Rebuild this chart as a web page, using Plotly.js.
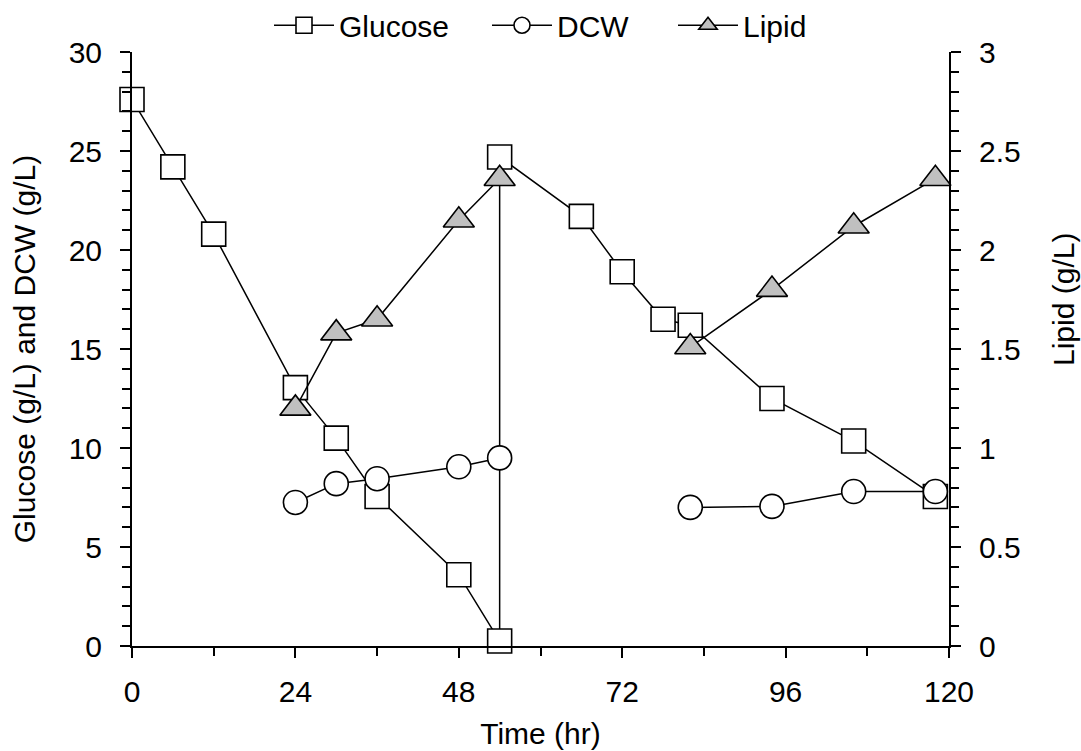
<!DOCTYPE html>
<html>
<head>
<meta charset="utf-8">
<script src="https://cdn.plot.ly/plotly-3.0.1.min.js"></script>
<style>html,body{margin:0;padding:0;background:#fff;}#chart{width:1081px;height:751px;}</style>
</head>
<body>
<div id="chart"></div>
<script>
// Data
var glucoseTime = [0, 6, 12, 24, 30, 36, 48, 54, 54, 66, 72, 78, 82, 94, 106, 118];
var glucose     = [27.6, 24.2, 20.8, 13.05, 10.5, 7.55, 3.6, 0.25, 24.7, 21.7, 18.9, 16.5, 16.2, 12.5, 10.35, 7.55];

var dcwTime = [24, 30, 36, 48, 54, null, 82, 94, 106, 118];
var dcw     = [7.25, 8.2, 8.45, 9.05, 9.5, null, 7.0, 7.05, 7.8, 7.8];

var lipidTime = [24, 30, 36, 48, 54, null, 82, 94, 106, 118];
var lipid     = [1.2, 1.58, 1.65, 2.15, 2.36, null, 1.51, 1.8, 2.12, 2.36];

var xTicks = [0, 24, 48, 72, 96, 120];
var seriesNames = ['Glucose', 'DCW', 'Lipid'];
var axisTitles = ['Time (hr)', 'Glucose (g/L) and DCW (g/L)', 'Lipid (g/L)'];

var FONT = 'Liberation Sans, Arial, sans-serif';
var FS = 30;

var traces = [
  {
    x: glucoseTime, y: glucose, name: seriesNames[0], type: 'scatter', mode: 'lines+markers',
    cliponaxis: false, legendwidth: 143,
    line: {color: '#000', width: 1.5},
    marker: {symbol: 'square', size: 24, color: '#fff', line: {color: '#000', width: 1.6}}
  },
  {
    x: dcwTime, y: dcw, name: seriesNames[1], type: 'scatter', mode: 'lines+markers',
    cliponaxis: false, connectgaps: false, legendwidth: 111,
    line: {color: '#000', width: 1.5},
    marker: {symbol: 'circle', size: 24, color: '#fff', line: {color: '#000', width: 1.6}}
  },
  {
    x: lipidTime, y: lipid, name: seriesNames[2], type: 'scatter', mode: 'lines+markers',
    yaxis: 'y2', cliponaxis: false, connectgaps: false,
    line: {color: '#000', width: 1.5},
    marker: {symbol: 'triangle-up', size: 27, color: '#c0c0c0', line: {color: '#000', width: 1.6}}
  }
];

var layout = {
  width: 1081, height: 751,
  paper_bgcolor: '#fff', plot_bgcolor: '#fff',
  font: {family: FONT, size: FS, color: '#000'},
  margin: {l: 132, r: 132, t: 52, b: 105, autoexpand: false},
  showlegend: true,
  legend: {
    orientation: 'h', x: 0.5, xanchor: 'center', y: 1.045, yanchor: 'middle',
    font: {family: FONT, size: FS, color: '#000'},
    bgcolor: 'rgba(0,0,0,0)', itemwidth: 60, tracegroupgap: 0
  },
  xaxis: {
    range: [0, 120], tickvals: xTicks, ticktext: xTicks.map(String),
    showgrid: false, zeroline: false,
    showline: true, linecolor: '#000', linewidth: 2, mirror: false,
    ticks: 'outside', ticklen: 10, tickwidth: 2, tickcolor: '#000',
    ticklabelstandoff: 8,
    minor: {dtick: 12, tick0: 0, ticks: 'outside', ticklen: 8, tickwidth: 2, tickcolor: '#000', showgrid: false},
    title: {text: axisTitles[0], font: {family: FONT, size: FS, color: '#000'}, standoff: 16},
    tickfont: {family: FONT, size: FS, color: '#000'},
    automargin: false
  },
  yaxis: {
    range: [0, 30], dtick: 5, tick0: 0,
    showgrid: false, zeroline: false,
    showline: true, linecolor: '#000', linewidth: 2,
    ticks: 'outside', ticklen: 10, tickwidth: 2, tickcolor: '#000',
    ticklabelstandoff: 12,
    minor: {dtick: 1, tick0: 0, ticks: 'outside', ticklen: 8, tickwidth: 2, tickcolor: '#000', showgrid: false},
    title: {text: axisTitles[1], font: {family: FONT, size: FS, color: '#000'}, standoff: 24},
    tickfont: {family: FONT, size: FS, color: '#000'},
    automargin: false
  },
  yaxis2: {
    range: [0, 3], dtick: 0.5, tick0: 0, overlaying: 'y', side: 'right',
    showgrid: false, zeroline: false,
    showline: true, linecolor: '#000', linewidth: 2,
    ticks: 'outside', ticklen: 10, tickwidth: 2, tickcolor: '#000',
    ticklabelstandoff: 12,
    minor: {dtick: 0.1, tick0: 0, ticks: 'outside', ticklen: 8, tickwidth: 2, tickcolor: '#000', showgrid: false},
    tickfont: {family: FONT, size: FS, color: '#000'},
    automargin: false
  },
  annotations: [{
    text: axisTitles[2], textangle: -90, showarrow: false,
    xref: 'paper', yref: 'paper', x: 1 + (1063 - 949) / 817, y: (646 - 300) / 594,
    xanchor: 'center', yanchor: 'middle',
    font: {family: FONT, size: FS, color: '#000'}
  }]
};

Plotly.newPlot('chart', traces, layout, {displayModeBar: false, staticPlot: true});
</script>
</body>
</html>
